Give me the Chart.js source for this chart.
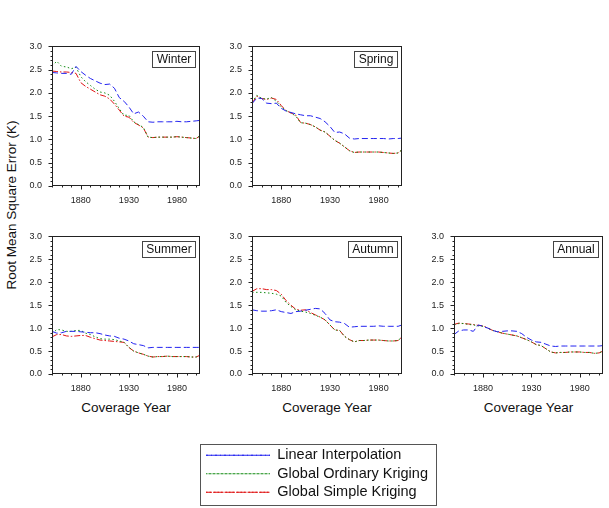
<!DOCTYPE html>
<html>
<head>
<meta charset="utf-8">
<script src="https://cdn.jsdelivr.net/npm/chart.js@4.4.0/dist/chart.umd.min.js"></script>
<style>
  body { margin: 0; background: #fff; font-family: "Liberation Sans", Arial, Helvetica, sans-serif; }
  #page { position: relative; width: 609px; height: 508px; overflow: hidden; background: #fff; }
  canvas { position: absolute; }
  .title { position: absolute; font-size: 13.5px; line-height: 16px; color: #111; white-space: nowrap; text-align: center; }
  #yTitle { left: -88px; top: 197px; width: 200px; transform: rotate(-90deg); }
</style>
</head>
<body>
<div id="page">
  <div class="title" id="yTitle">Root Mean Square Error (K)</div>
</div>
<script>
// coverage years (5-year samples)
const YEARS = [1850,1855,1860,1865,1870,1875,1880,1885,1890,1895,1900,1905,1910,1915,1920,1925,
               1930,1935,1940,1945,1950,1955,1960,1965,1970,1975,1980,1985,1990,1995,2000,2004];

const WINTER_LINEAR   = [2.44,2.43,2.42,2.42,2.40,2.57,2.46,2.38,2.31,2.26,2.21,2.18,2.19,2.10,1.90,1.82,1.70,1.55,1.59,1.50,1.38,1.37,1.38,1.38,1.38,1.38,1.39,1.38,1.38,1.39,1.40,1.41];
const WINTER_ORDINARY = [2.58,2.68,2.57,2.56,2.52,2.55,2.35,2.24,2.16,2.08,2.02,2.00,1.95,1.82,1.66,1.52,1.52,1.38,1.32,1.26,1.05,1.04,1.05,1.05,1.05,1.05,1.06,1.05,1.04,1.03,1.02,1.08];
const WINTER_SIMPLE   = [2.47,2.46,2.45,2.45,2.44,2.42,2.22,2.14,2.08,2.02,1.96,1.93,1.87,1.76,1.63,1.50,1.48,1.37,1.31,1.25,1.05,1.04,1.05,1.05,1.05,1.05,1.06,1.05,1.04,1.03,1.02,1.08];

const SPRING_LINEAR   = [1.77,1.89,1.88,1.78,1.77,1.78,1.67,1.61,1.58,1.55,1.53,1.51,1.51,1.48,1.45,1.38,1.28,1.15,1.16,1.12,1.03,1.01,1.02,1.02,1.02,1.02,1.02,1.02,1.01,1.02,1.02,1.03];
const SPRING_ORDINARY = [1.80,1.95,1.88,1.87,1.90,1.82,1.70,1.62,1.57,1.50,1.36,1.35,1.32,1.27,1.20,1.16,1.07,0.98,0.92,0.84,0.76,0.72,0.73,0.73,0.73,0.73,0.73,0.72,0.71,0.70,0.71,0.78];
const SPRING_SIMPLE   = [1.78,1.93,1.88,1.86,1.89,1.86,1.73,1.62,1.57,1.52,1.36,1.35,1.32,1.27,1.20,1.16,1.07,0.98,0.92,0.84,0.76,0.72,0.73,0.73,0.73,0.73,0.73,0.72,0.71,0.70,0.71,0.78];

const SUMMER_LINEAR   = [0.93,0.89,0.90,0.93,0.93,0.93,0.92,0.91,0.90,0.90,0.88,0.85,0.83,0.82,0.78,0.76,0.72,0.66,0.64,0.62,0.57,0.58,0.58,0.58,0.58,0.58,0.58,0.58,0.58,0.58,0.58,0.58];
const SUMMER_ORDINARY = [0.88,0.97,0.96,0.93,0.93,0.95,0.95,0.89,0.86,0.81,0.77,0.76,0.76,0.75,0.72,0.69,0.58,0.50,0.46,0.43,0.39,0.37,0.38,0.38,0.39,0.38,0.38,0.38,0.38,0.37,0.37,0.41];
const SUMMER_SIMPLE   = [0.81,0.86,0.86,0.83,0.82,0.83,0.84,0.84,0.80,0.77,0.74,0.73,0.72,0.71,0.70,0.69,0.58,0.50,0.46,0.43,0.39,0.37,0.38,0.38,0.39,0.38,0.38,0.38,0.38,0.37,0.37,0.41];

const AUTUMN_LINEAR   = [1.40,1.38,1.37,1.37,1.38,1.40,1.36,1.34,1.32,1.36,1.37,1.39,1.41,1.43,1.42,1.32,1.18,1.14,1.13,1.10,1.02,1.03,1.04,1.04,1.04,1.04,1.05,1.04,1.04,1.04,1.04,1.07];
const AUTUMN_ORDINARY = [1.78,1.78,1.78,1.77,1.76,1.74,1.70,1.56,1.47,1.40,1.37,1.35,1.32,1.28,1.24,1.18,1.07,0.96,0.95,0.82,0.75,0.70,0.73,0.73,0.74,0.74,0.74,0.73,0.72,0.72,0.73,0.81];
const AUTUMN_SIMPLE   = [1.80,1.86,1.86,1.84,1.84,1.82,1.74,1.60,1.50,1.41,1.39,1.40,1.34,1.29,1.24,1.18,1.07,0.96,0.95,0.82,0.75,0.70,0.73,0.73,0.74,0.74,0.74,0.73,0.72,0.72,0.73,0.81];

const ANNUAL_LINEAR   = [0.86,0.94,0.96,0.96,0.93,1.07,1.04,1.00,0.95,0.92,0.93,0.94,0.94,0.93,0.88,0.80,0.74,0.70,0.69,0.65,0.61,0.60,0.61,0.61,0.61,0.61,0.61,0.61,0.61,0.61,0.61,0.62];
const ANNUAL_ORDINARY = [1.07,1.10,1.10,1.08,1.07,1.05,1.04,1.00,0.95,0.92,0.89,0.87,0.85,0.83,0.79,0.75,0.70,0.64,0.62,0.55,0.48,0.46,0.47,0.47,0.48,0.48,0.48,0.47,0.47,0.45,0.46,0.50];
const ANNUAL_SIMPLE   = [1.08,1.11,1.10,1.09,1.08,1.06,1.05,1.00,0.95,0.92,0.89,0.87,0.85,0.83,0.79,0.75,0.70,0.64,0.62,0.55,0.48,0.46,0.47,0.47,0.48,0.48,0.48,0.47,0.47,0.45,0.46,0.50];

const SERIES_NAMES = ['Linear Interpolation', 'Global Ordinary Kriging', 'Global Simple Kriging'];
const Y_TICKS = [0, 0.5, 1.0, 1.5, 2.0, 2.5, 3.0];
const X_TICKS = [1880, 1930, 1980];
const X_TITLE = 'Coverage Year';

const PANEL_DATA = {
    Winter: [WINTER_LINEAR, WINTER_ORDINARY, WINTER_SIMPLE],
    Spring: [SPRING_LINEAR, SPRING_ORDINARY, SPRING_SIMPLE],
    Summer: [SUMMER_LINEAR, SUMMER_ORDINARY, SUMMER_SIMPLE],
    Autumn: [AUTUMN_LINEAR, AUTUMN_ORDINARY, AUTUMN_SIMPLE],
    Annual: [ANNUAL_LINEAR, ANNUAL_ORDINARY, ANNUAL_SIMPLE]
};

// plot rectangles on the page (px)
const PLOTS = [
    { name: 'Winter', x: 52,  y: 37,  w: 148, h: 149, xTitle: false },
    { name: 'Spring', x: 252, y: 37,  w: 150, h: 149, xTitle: false },
    { name: 'Summer', x: 52,  y: 227, w: 148, h: 147, xTitle: true },
    { name: 'Autumn', x: 252, y: 227, w: 150, h: 147, xTitle: true },
    { name: 'Annual', x: 454, y: 227, w: 149, h: 147, xTitle: true }
];

const FONT = '"Liberation Sans", Arial, Helvetica, sans-serif';
const AXIS_COLOR = '#222';
const STYLES = [
    { color: '#2323f0', dash: [6, 3] },
    { color: '#118a11', dash: [1.5, 2.5] },
    { color: '#e01414', dash: [6, 2, 1.5, 2] }
];
const PAD_L = 45, PAD_T = 6, PAD_R = 6, PAD_B = 24;
const LEGEND_BOX = { x: 200, y: 444, w: 237, h: 62 };

const page = document.getElementById('page');

// frame, outward ticks and the season label box
const framePlugin = {
    id: 'frame',
    afterDraw(chart, args, opts) {
        const { ctx, chartArea: a, scales: { x, y } } = chart;
        const L = Math.round(a.left) + 0.5, R = Math.round(a.right) - 0.5;
        const T = Math.round(a.top) + 0.5, B = Math.round(a.bottom) - 0.5;
        ctx.save();
        ctx.strokeStyle = AXIS_COLOR;
        ctx.lineWidth = 1;
        ctx.setLineDash([]);
        ctx.strokeRect(L, T, R - L, B - T);
        ctx.beginPath();
        for (let i = 0; i <= 30; i++) {
            const py = Math.round(y.getPixelForValue(i / 10)) + 0.5;
            const len = i % 5 === 0 ? 4 : 2;
            ctx.moveTo(L, py); ctx.lineTo(L - len, py);
        }
        for (let yr = 1850; yr <= 2000; yr += 10) {
            const px = Math.round(x.getPixelForValue(yr)) + 0.5;
            const len = X_TICKS.includes(yr) ? 4 : 2;
            ctx.moveTo(px, B); ctx.lineTo(px, B + len);
        }
        ctx.stroke();

        // label box
        ctx.font = '12px ' + FONT;
        const tw = ctx.measureText(opts.label).width;
        const bw = Math.round(tw + 8), bh = 16;
        const bx = Math.round(a.right) - 5 - bw, by = Math.round(a.top) + 5;
        ctx.fillStyle = '#fff';
        ctx.fillRect(bx, by, bw, bh);
        ctx.strokeStyle = '#444';
        ctx.strokeRect(bx + 0.5, by + 0.5, bw, bh);
        ctx.fillStyle = '#111';
        ctx.textBaseline = 'middle';
        ctx.textAlign = 'center';
        ctx.fillText(opts.label, bx + bw / 2 + 0.5, by + bh / 2 + 1);
        ctx.restore();
    }
};

function makeCanvas(left, top, width, height) {
    const c = document.createElement('canvas');
    c.width = width;
    c.height = height;
    c.style.left = left + 'px';
    c.style.top = top + 'px';
    c.style.width = width + 'px';
    c.style.height = height + 'px';
    page.appendChild(c);
    return c;
}

PLOTS.forEach(p => {
    const cw = p.w + PAD_L + PAD_R, ch = p.h + PAD_T + PAD_B;
    const canvas = makeCanvas(p.x - PAD_L, p.y - PAD_T, cw, ch);
    const series = PANEL_DATA[p.name];

    new Chart(canvas.getContext('2d'), {
        type: 'line',
        data: {
            datasets: series.map((vals, i) => ({
                label: SERIES_NAMES[i],
                data: YEARS.map((yr, j) => ({ x: yr, y: vals[j] })),
                borderColor: STYLES[i].color,
                borderDash: STYLES[i].dash,
                borderWidth: 1,
                pointRadius: 0,
                fill: false,
                tension: 0
            }))
        },
        options: {
            responsive: false,
            animation: false,
            devicePixelRatio: 1,
            events: [],
            layout: { padding: { top: PAD_T, right: PAD_R, left: 0, bottom: 0 } },
            plugins: {
                legend: { display: false },
                tooltip: { enabled: false },
                frame: { label: p.name }
            },
            scales: {
                x: {
                    type: 'linear',
                    min: 1850,
                    max: 2004,
                    grid: { display: false, drawTicks: false },
                    border: { display: false },
                    afterBuildTicks: s => { s.ticks = X_TICKS.map(v => ({ value: v })); },
                    afterFit: s => { s.height = PAD_B; },
                    ticks: {
                        padding: 9,
                        maxRotation: 0,
                        color: AXIS_COLOR,
                        font: { size: 9, family: FONT },
                        callback: v => String(v)
                    }
                },
                y: {
                    min: 0,
                    max: 3,
                    grid: { display: false, drawTicks: false },
                    border: { display: false },
                    afterBuildTicks: s => { s.ticks = Y_TICKS.map(v => ({ value: v })); },
                    afterFit: s => { s.width = PAD_L; },
                    ticks: {
                        padding: 10,
                        color: AXIS_COLOR,
                        font: { size: 9, family: FONT },
                        callback: v => Number(v).toFixed(1)
                    }
                }
            }
        },
        plugins: [framePlugin]
    });

    if (p.xTitle) {
        const t = document.createElement('div');
        t.className = 'title';
        t.textContent = X_TITLE;
        t.style.left = (p.x + p.w / 2 - 75) + 'px';
        t.style.top = '400px';
        t.style.width = '150px';
        page.appendChild(t);
    }
});

// legend, drawn by the Chart.js legend in its own canvas; the canvas is taller
// than the box so the legend may use more than half of it, the rest is clipped
const legendBorder = {
    id: 'legendBorder',
    afterDraw(chart) {
        const { ctx } = chart;
        ctx.save();
        ctx.setLineDash([]);
        ctx.strokeStyle = '#555';
        ctx.lineWidth = 1;
        ctx.strokeRect(0.5, 0.5, LEGEND_BOX.w - 1, LEGEND_BOX.h - 1);
        ctx.restore();
    }
};

const legendCanvas = makeCanvas(LEGEND_BOX.x, LEGEND_BOX.y, LEGEND_BOX.w, LEGEND_BOX.h * 2 + 10);
new Chart(legendCanvas.getContext('2d'), {
    type: 'line',
    data: {
        datasets: SERIES_NAMES.map((name, i) => ({
            label: name,
            data: [],
            borderColor: STYLES[i].color,
            borderDash: STYLES[i].dash,
            borderWidth: 1,
            backgroundColor: 'rgba(0,0,0,0)'
        }))
    },
    options: {
        responsive: false,
        animation: false,
        devicePixelRatio: 1,
        events: [],
        layout: { padding: { left: 2, top: 0 } },
        scales: { x: { display: false }, y: { display: false } },
        plugins: {
            tooltip: { enabled: false },
            legend: {
                display: true,
                position: 'top',
                align: 'start',
                labels: {
                    boxWidth: 64,
                    boxHeight: 0,
                    padding: 4,
                    color: '#111',
                    font: { size: 14.5, family: FONT }
                }
            }
        }
    },
    plugins: [legendBorder]
});
</script>
</body>
</html>
